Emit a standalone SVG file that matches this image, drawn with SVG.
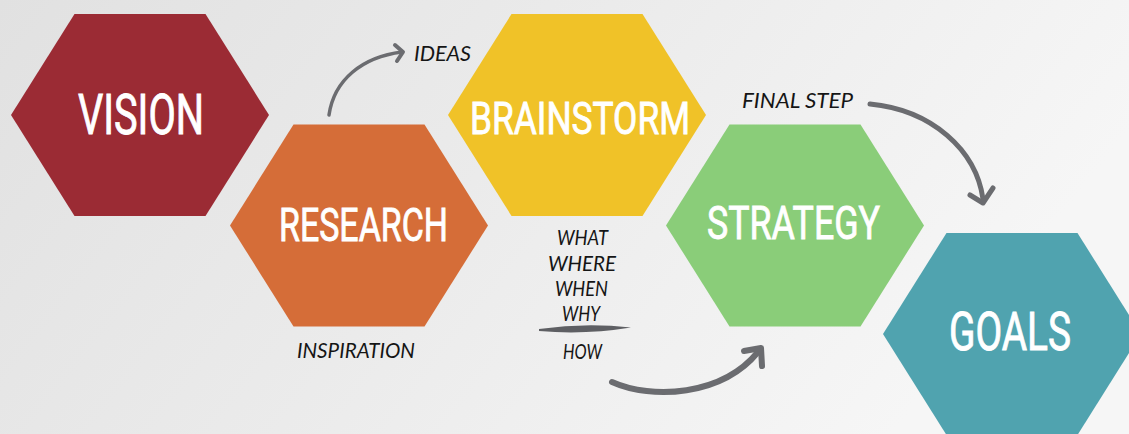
<svg xmlns="http://www.w3.org/2000/svg" xmlns:xlink="http://www.w3.org/1999/xlink" width="1129" height="434" viewBox="0 0 1129 434">
<defs>
<linearGradient id="bg" x1="0" y1="0" x2="1" y2="0.3">
<stop offset="0" stop-color="#e1e1e1"/>
<stop offset="0.5" stop-color="#ebebeb"/>
<stop offset="1" stop-color="#f6f6f6"/>
</linearGradient>
<polygon id="hex" points="-65.5,-101 65.5,-101 129,0 65.5,101 -65.5,101 -129,0"/>
</defs>
<style>
.lbl{font-family:Roboto,"Liberation Sans",sans-serif;font-weight:400;fill:#ffffff;stroke:#ffffff;stroke-width:0.9px}
.hand{font-family:Lato,"Liberation Sans",sans-serif;font-style:italic;font-weight:400;font-size:22px;fill:#151515}
.arr{fill:none;stroke:#6b6c70;stroke-linecap:round;stroke-linejoin:round}
</style>
<rect width="1129" height="434" fill="url(#bg)"/>

<g id="vision">
<use xlink:href="#hex" href="#hex" transform="translate(140,115)" fill="#9b2b34"/>
<text class="lbl" x="78" y="134" font-size="55" textLength="126" lengthAdjust="spacingAndGlyphs">VISION</text>
</g>
<g id="research">
<use xlink:href="#hex" href="#hex" transform="translate(359,225.5)" fill="#d56d38"/>
<text class="lbl" x="279" y="241" font-size="46" textLength="169" lengthAdjust="spacingAndGlyphs">RESEARCH</text>
</g>
<g id="brainstorm">
<use xlink:href="#hex" href="#hex" transform="translate(577,115)" fill="#f0c228"/>
<text class="lbl" x="470" y="134" font-size="45" textLength="220" lengthAdjust="spacingAndGlyphs">BRAINSTORM</text>
</g>
<g id="strategy">
<use xlink:href="#hex" href="#hex" transform="translate(795,225.5)" fill="#8acd79"/>
<text class="lbl" x="707" y="239" font-size="47" textLength="173" lengthAdjust="spacingAndGlyphs">STRATEGY</text>
</g>
<g id="goals">
<use xlink:href="#hex" href="#hex" transform="translate(1012,334)" fill="#50a3af"/>
<text class="lbl" x="949" y="350" font-size="53" textLength="122" lengthAdjust="spacingAndGlyphs">GOALS</text>
</g>

<g id="connectors">
<path class="arr" stroke-width="3.5" d="M329,115 C334,80 362,57 402,52"/>
<polyline class="arr" stroke-width="4" points="395,45 403,52 397,61"/>
<path class="arr" stroke-width="6" d="M612,382 C652,400 722,396 758,352"/>
<polyline class="arr" stroke-width="6" points="744,351 761,348 762,366"/>
<path class="arr" stroke-width="5" d="M870,104 C932,110 976,150 983,199"/>
<polyline class="arr" stroke-width="5" points="970,195 983,203 993,188"/>
</g>

<g id="annotations">
<text class="hand" x="414" y="61" textLength="57" lengthAdjust="spacingAndGlyphs">IDEAS</text>
<text class="hand" x="297" y="358" textLength="118" lengthAdjust="spacingAndGlyphs">INSPIRATION</text>
<text class="hand" x="742" y="108" textLength="111" lengthAdjust="spacingAndGlyphs">FINAL STEP</text>
<text class="hand" x="557" y="245" textLength="51" lengthAdjust="spacingAndGlyphs">WHAT</text>
<text class="hand" x="548" y="271" textLength="68" lengthAdjust="spacingAndGlyphs">WHERE</text>
<text class="hand" x="555" y="296" textLength="53" lengthAdjust="spacingAndGlyphs">WHEN</text>
<text class="hand" x="562" y="321" textLength="38" lengthAdjust="spacingAndGlyphs">WHY</text>
<path d="M539,329 Q585,322.5 631,327.5 Q585,335 539,331 Z" fill="#5e5f63"/>
<text class="hand" x="563" y="359" textLength="39" lengthAdjust="spacingAndGlyphs">HOW</text>
</g>
</svg>
